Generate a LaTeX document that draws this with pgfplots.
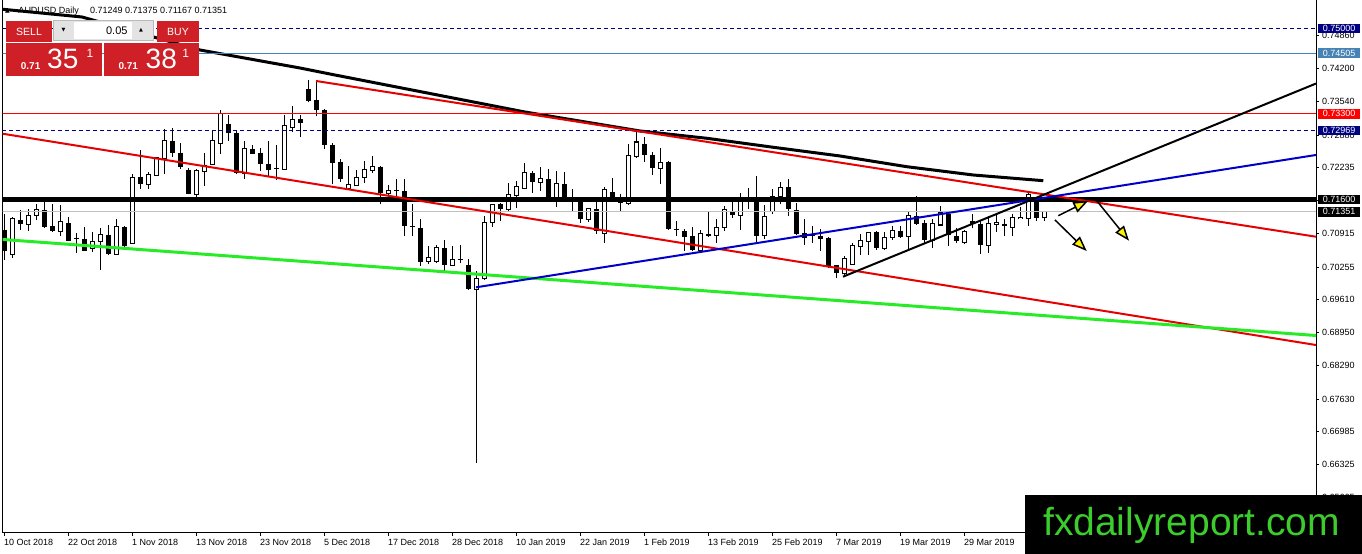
\documentclass[border=0pt]{standalone}
\usepackage{pgfplots}
\pgfplotsset{compat=1.18}
\usepackage{pgfplotstable}
\usepackage{fontspec}
\setmainfont{Liberation Sans}
\newfontfamily\dejavu{DejaVu Sans}
\usetikzlibrary{arrows.meta}
\definecolor{navyb}{RGB}{0,0,128}
\definecolor{steelb}{RGB}{70,130,180}
\definecolor{chred}{RGB}{230,0,0}
\definecolor{tlblue}{RGB}{0,0,200}
\definecolor{lgreen}{RGB}{40,235,40}
\definecolor{silv}{RGB}{192,192,192}
\definecolor{panelred}{RGB}{206,32,38}
\definecolor{wmgreen}{RGB}{60,205,45}

\pgfplotstableread{
i o h l c
1 0.7051 0.7125 0.7043 0.7120
3 0.7111 0.7140 0.7097 0.7127
4 0.7129 0.7150 0.7118 0.7138
7 0.7097 0.7148 0.7087 0.7115
11 0.7063 0.7095 0.7055 0.7075
12 0.7078 0.7103 0.7020 0.7090
14 0.7051 0.7120 0.7050 0.7105
16 0.7073 0.7211 0.7071 0.7203
18 0.7190 0.7215 0.7181 0.7208
19 0.7208 0.7245 0.7207 0.7242
20 0.7243 0.7300 0.7211 0.7275
24 0.7170 0.7220 0.7162 0.7217
25 0.7217 0.7253 0.7187 0.7227
26 0.7230 0.7298 0.7229 0.7275
27 0.7273 0.7338 0.7250 0.7330
30 0.7213 0.7275 0.7201 0.7260
35 0.7221 0.7327 0.7220 0.7305
36 0.7303 0.7345 0.7293 0.7318
43 0.7183 0.7227 0.7180 0.7188
44 0.7188 0.7218 0.7187 0.7203
45 0.7205 0.7237 0.7193 0.7218
46 0.7218 0.7247 0.7213 0.7225
48 0.7172 0.7188 0.7168 0.7177
53 0.7038 0.7068 0.7032 0.7043
54 0.7037 0.7070 0.7033 0.7063
56 0.7030 0.7068 0.7027 0.7039
59 0.6982 0.7017 0.6636 0.7002
60 0.7003 0.7127 0.7000 0.7113
61 0.7115 0.7151 0.7105 0.7148
63 0.7140 0.7193 0.7136 0.7168
64 0.7168 0.7197 0.7143 0.7185
65 0.7183 0.7232 0.7180 0.7213
67 0.7195 0.7225 0.7177 0.7200
69 0.7165 0.7217 0.7145 0.7191
73 0.7121 0.7142 0.7115 0.7140
75 0.7093 0.7185 0.7073 0.7178
78 0.7153 0.7271 0.7149 0.7247
79 0.7247 0.7293 0.7242 0.7273
82 0.7223 0.7263 0.7191 0.7233
87 0.7060 0.7100 0.7059 0.7091
89 0.7089 0.7120 0.7073 0.7103
90 0.7105 0.7147 0.7097 0.7138
92 0.7128 0.7173 0.7100 0.7157
93 0.7157 0.7182 0.7140 0.7159
95 0.7089 0.7149 0.7082 0.7125
96 0.7137 0.7181 0.7130 0.7165
97 0.7167 0.7195 0.7150 0.7183
105 0.7013 0.7047 0.7005 0.7042
106 0.7031 0.7073 0.7029 0.7067
107 0.7067 0.7091 0.7050 0.7078
108 0.7077 0.7095 0.7050 0.7093
110 0.7063 0.7095 0.7060 0.7083
111 0.7085 0.7108 0.7080 0.7098
113 0.7087 0.7137 0.7057 0.7127
116 0.7080 0.7120 0.7063 0.7110
117 0.7110 0.7147 0.7109 0.7133
120 0.7075 0.7100 0.7071 0.7095
123 0.7069 0.7127 0.7053 0.7111
124 0.7111 0.7130 0.7095 0.7113
126 0.7105 0.7131 0.7087 0.7123
127 0.7122 0.7145 0.7120 0.7123
128 0.7122 0.7172 0.7108 0.7169
130 0.71249 0.71375 0.71167 0.71351
}\bull

\pgfplotstableread{
i o h l c
0 0.7100 0.7130 0.7040 0.7058
2 0.7118 0.7138 0.7100 0.7110
5 0.7138 0.7155 0.7104 0.7105
6 0.7107 0.7150 0.7095 0.7097
8 0.7113 0.7125 0.7077 0.7078
9 0.7083 0.7093 0.7053 0.7081
10 0.7082 0.7105 0.7057 0.7058
13 0.7090 0.7109 0.7050 0.7051
15 0.7105 0.7108 0.7065 0.7067
17 0.7205 0.7258 0.7181 0.7191
21 0.7275 0.7302 0.7245 0.7253
22 0.7253 0.7273 0.7220 0.7225
23 0.7219 0.7223 0.7170 0.7171
28 0.7310 0.7327 0.7275 0.7291
29 0.7291 0.7298 0.7210 0.7213
31 0.7260 0.7268 0.7250 0.7251
32 0.7253 0.7263 0.7217 0.7230
33 0.7230 0.7275 0.7207 0.7218
34 0.7223 0.7268 0.7199 0.7220
37 0.7319 0.7327 0.7283 0.7312
38 0.7379 0.7397 0.7353 0.7355
39 0.7357 0.7393 0.7325 0.7338
40 0.7338 0.7340 0.7261 0.7268
41 0.7269 0.7273 0.7190 0.7232
42 0.7235 0.7240 0.7195 0.7200
47 0.7225 0.7227 0.7150 0.7173
49 0.7178 0.7201 0.7160 0.7176
50 0.7177 0.7200 0.7087 0.7107
51 0.7107 0.7150 0.7087 0.7105
52 0.7103 0.7121 0.7028 0.7035
55 0.7063 0.7079 0.7017 0.7030
57 0.7042 0.7070 0.7033 0.7040
58 0.7030 0.7041 0.6980 0.6981
62 0.7150 0.7153 0.7117 0.7140
66 0.7212 0.7217 0.7173 0.7195
68 0.7200 0.7220 0.7163 0.7165
70 0.7191 0.7215 0.7160 0.7162
71 0.7165 0.7180 0.7137 0.7162
72 0.7158 0.7162 0.7113 0.7120
74 0.7140 0.7163 0.7091 0.7098
76 0.7175 0.7203 0.7157 0.7160
77 0.7163 0.7170 0.7135 0.7153
80 0.7271 0.7283 0.7235 0.7248
81 0.7249 0.7255 0.7209 0.7223
83 0.7235 0.7236 0.7100 0.7102
84 0.7102 0.7117 0.7087 0.7099
85 0.7098 0.7102 0.7058 0.7085
86 0.7087 0.7105 0.7058 0.7060
88 0.7091 0.7135 0.7085 0.7088
91 0.7137 0.7155 0.7123 0.7128
94 0.7159 0.7207 0.7071 0.7087
98 0.7185 0.7200 0.7127 0.7140
99 0.7138 0.7153 0.7089 0.7091
100 0.7093 0.7120 0.7070 0.7083
101 0.7089 0.7107 0.7073 0.7087
102 0.7088 0.7102 0.7057 0.7082
103 0.7083 0.7085 0.7023 0.7025
104 0.7029 0.7030 0.7003 0.7013
109 0.7095 0.7097 0.7060 0.7063
112 0.7098 0.7107 0.7083 0.7085
114 0.7127 0.7167 0.7109 0.7110
115 0.7113 0.7118 0.7073 0.7080
118 0.7130 0.7133 0.7067 0.7090
119 0.7087 0.7103 0.7073 0.7077
121 0.7117 0.7130 0.7103 0.7111
122 0.7111 0.7118 0.7051 0.7069
125 0.7111 0.7120 0.7087 0.7107
129 0.7157 0.7163 0.7117 0.7122
}\bear

\newcommand{\tf}{\fontsize{9bp}{10bp}\selectfont}

\begin{document}
\begin{tikzpicture}
\begin{axis}[
  at={(2.5bp,21.3bp)}, anchor=south west,
  scale only axis, width=1313.5bp, height=532.7bp,
  xmin=-0.1875, xmax=164, ymin=0.64973, ymax=0.75563,
  clip mode=individual,
  axis line style={draw=none},
  xtick pos=left, ytick pos=right, xticklabel pos=left, yticklabel pos=right,
  tick align=outside, major tick length=3bp,
  tick style={black, line width=0.8bp},
  xtick={0,8,...,120},
  xticklabels={10 Oct 2018,22 Oct 2018,1 Nov 2018,13 Nov 2018,23 Nov 2018,5 Dec 2018,17 Dec 2018,28 Dec 2018,10 Jan 2019,22 Jan 2019,1 Feb 2019,13 Feb 2019,25 Feb 2019,7 Mar 2019,19 Mar 2019,29 Mar 2019},
  ytick={0.74860,0.74200,0.73540,0.72880,0.72235,0.71575,0.70915,0.70255,0.69610,0.68950,0.68290,0.67630,0.66985,0.66325,0.65665},
  yticklabels={0.74860,0.74200,0.73540,0.72880,0.72235,0.71575,0.70915,0.70255,0.69610,0.68950,0.68290,0.67630,0.66985,0.66325,0.65665},
  ticklabel style={font=\tf, inner sep=0pt},
  xticklabel style={anchor=north west, yshift=-3bp},
  yticklabel style={anchor=west, xshift=3bp},
  scaled y ticks=false,
]
% frame
\draw[black, line width=1bp] (rel axis cs:0,1) -- (rel axis cs:0,0) -- (rel axis cs:1,0) -- (rel axis cs:1,1);
% wicks
\addplot[black, line width=1bp, quiver={u=0, v=\thisrow{h}-\thisrow{l}}] table[x=i, y=l] {\bull};
\addplot[black, line width=1bp, quiver={u=0, v=\thisrow{h}-\thisrow{l}}] table[x=i, y=l] {\bear};
% bodies
\addplot[black, line width=5bp, quiver={u=0, v=\thisrow{c}-\thisrow{o}}] table[x=i, y=o] {\bear};
\addplot[black, line width=5bp, quiver={u=0, v=\thisrow{c}-\thisrow{o}+0.0004}] table[x=i, y expr=\thisrow{o}-0.0002] {\bull};
\addplot[white, line width=3bp, quiver={u=0, v=\thisrow{c}-\thisrow{o}}] table[x=i, y=o] {\bull};
% moving average
\addplot[black, line width=3bp, line join=round] coordinates {(-0.5,0.75384) (9.75,0.75225) (24.5,0.74569) (37,0.74211) (41.375,0.74072) (65.125,0.73336) (79.5,0.72959) (87.84,0.72814) (96.16,0.72635) (104.5,0.72462) (112.84,0.72249) (121.16,0.72084) (129.91,0.71971)};
% horizontal levels
\addplot[navyb, line width=0.8bp, dash pattern=on 4bp off 3bp] coordinates {(-0.2,0.75) (164,0.75)};
\addplot[steelb, line width=0.8bp] coordinates {(-0.2,0.74505) (164,0.74505)};
\addplot[red, line width=0.8bp] coordinates {(-0.2,0.733) (164,0.733)};
\addplot[navyb, line width=0.8bp, dash pattern=on 4bp off 3bp] coordinates {(-0.2,0.72969) (164,0.72969)};
\addplot[silv, line width=0.8bp] coordinates {(-0.2,0.71351) (164,0.71351)};
\addplot[black, line width=4.5bp] coordinates {(-0.2,0.716) (164,0.716)};
% trend lines
\addplot[chred, line width=2bp] coordinates {(39,0.73953) (164,0.70857)};
\addplot[chred, line width=2bp] coordinates {(-0.5,0.72913) (164,0.68704)};
\addplot[lgreen, line width=3bp] coordinates {(-0.5,0.70806) (164,0.68893)};
\addplot[tlblue, line width=2bp] coordinates {(59,0.69851) (164,0.72482)};
\addplot[black, line width=2bp] coordinates {(104.875,0.70062) (164,0.73902)};
% arrows
\addplot[black, line width=1.5bp, -{Triangle[length=15bp, width=11bp, fill=yellow]}] coordinates {(131.79,0.71275) (135.54,0.71573)};
\addplot[black, line width=1.5bp, -{Triangle[length=15bp, width=11bp, fill=yellow]}] coordinates {(131.375,0.7119) (135.34,0.70573)};
\addplot[black, line width=1.5bp, -{Triangle[length=15bp, width=11bp, fill=yellow]}] coordinates {(136.59,0.71573) (140.625,0.70778)};
\end{axis}

% price boxes on the right scale
\tikzset{pbox/.style={text=white, anchor=west, inner sep=0pt, minimum width=42bp, minimum height=9.5bp, font=\tf}}
\node[pbox, fill=navyb] at (1318bp,525.7bp) {0.75000};
\node[pbox, fill=steelb] at (1318bp,500.8bp) {0.74505};
\node[pbox, fill=red] at (1318bp,440.2bp) {0.73300};
\node[pbox, fill=navyb] at (1318bp,423.5bp) {0.72969};
\node[pbox, fill=black] at (1318bp,354.7bp) {0.71600};
\node[pbox, fill=black] at (1318bp,342.2bp) {0.71351};

% header
\node[anchor=base west, inner sep=0pt, font=\dejavu\fontsize{6bp}{7bp}\selectfont] at (5bp,541bp) {▲};
\node[anchor=base west, inner sep=0pt, font=\tf] at (18.3bp,540bp) {AUDUSD Daily};
\node[anchor=base west, inner sep=0pt, font=\tf] at (90bp,540bp) {0.71249 0.71375 0.71167 0.71351};

% one click trading panel
\fill[panelred] (6bp,533bp) rectangle (52bp,512bp);
\node[anchor=base, inner sep=0pt, text=white, font=\fontsize{10.5bp}{12bp}\selectfont] at (29bp,518.7bp) {SELL};
\fill[gray!22] (53bp,533.3bp) rectangle (153bp,514bp);
\fill[white] (74bp,532.3bp) rectangle (132bp,515bp);
\draw[gray!55, line width=0.6bp] (53bp,533.3bp) rectangle (153bp,514bp);
\node[inner sep=0pt, font=\dejavu\fontsize{5bp}{6bp}\selectfont] at (63.5bp,523.7bp) {▼};
\node[inner sep=0pt, font=\dejavu\fontsize{5bp}{6bp}\selectfont] at (141bp,523.7bp) {▲};
\node[anchor=base east, inner sep=0pt, font=\fontsize{11bp}{12bp}\selectfont] at (127.7bp,519.7bp) {0.05};
\fill[panelred] (157bp,533bp) rectangle (199bp,512bp);
\node[anchor=base, inner sep=0pt, text=white, font=\fontsize{10.5bp}{12bp}\selectfont] at (178bp,518.7bp) {BUY};
\fill[panelred] (6bp,511bp) rectangle (102bp,478bp);
\fill[panelred] (104bp,511bp) rectangle (199bp,478bp);
\node[anchor=base west, inner sep=0pt, text=white, font=\bfseries\fontsize{10bp}{11bp}\selectfont] at (20.7bp,484.7bp) {0.71};
\node[anchor=base west, inner sep=0pt, text=white, font=\fontsize{28bp}{30bp}\selectfont] at (47bp,485.7bp) {35};
\node[anchor=base west, inner sep=0pt, text=white, font=\fontsize{12bp}{13bp}\selectfont] at (86.5bp,496.7bp) {1};
\node[anchor=base west, inner sep=0pt, text=white, font=\bfseries\fontsize{10bp}{11bp}\selectfont] at (118.3bp,484.7bp) {0.71};
\node[anchor=base west, inner sep=0pt, text=white, font=\fontsize{28bp}{30bp}\selectfont] at (145.5bp,485.7bp) {38};
\node[anchor=base west, inner sep=0pt, text=white, font=\fontsize{12bp}{13bp}\selectfont] at (182.2bp,496.7bp) {1};

% watermark
\fill[black] (1025bp,0bp) rectangle (1362bp,59bp);
\node[anchor=base west, inner sep=0pt, text=wmgreen, font=\fontsize{39bp}{40bp}\selectfont] at (1043bp,19bp) {fxdailyreport.com};

\pgfresetboundingbox
\path (0bp,0bp) rectangle (1362bp,554bp);
\end{tikzpicture}
\end{document}
